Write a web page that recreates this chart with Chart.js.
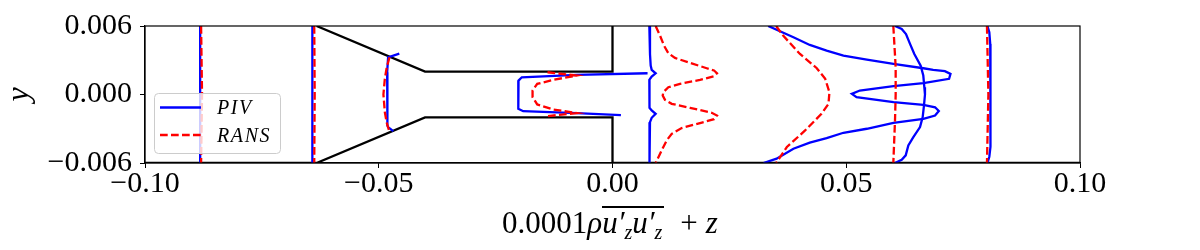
<!DOCTYPE html>
<html>
<head>
<meta charset="utf-8">
<script src="https://cdn.jsdelivr.net/npm/chart.js@4"></script>
<style>
  body { margin: 0; background: #fff; }
  #wrap { position: relative; width: 1200px; height: 250px; overflow: hidden; }
  #xlabel {
    position: absolute; left: 502px; top: 203px; height: 40px;
    font: 31px/40px "Liberation Serif", serif; white-space: nowrap; color: #000;
  }
  #xlabel i { font-style: italic; }
  #xlabel .bar { display: inline-block; position: relative; width: 62px; }
  #xlabel .bar::before { content: ""; position: absolute; left: 0; right: 0; top: 3px; height: 2px; background: #000; }
  #xlabel sub { font-size: 20px; line-height: 0; font-style: italic; vertical-align: -6px; }
  #xlabel .plus { margin-left: 16px; margin-right: 8px; }
</style>
</head>
<body>
<div id="wrap">
  <canvas id="myChart" width="1200" height="250"></canvas>
  <div id="xlabel">0.0001<i>ρ</i><span class="bar"><i>u′</i><sub>z</sub><i>u′</i><sub>z</sub></span><span class="plus">+</span><i>z</i></div>
</div>
<script>
let xTicks = [-0.1, -0.05, 0, 0.05, 0.1];
let yTicks = [-0.006, 0, 0.006];

// nozzle walls
let wallTopX = [-0.0633, -0.0401, 0, 0];
let wallTopY = [0.006, 0.002, 0.002, 0.006];
let wallBotX = [-0.0633, -0.0401, 0, 0];
let wallBotY = [-0.006, -0.002, -0.002, -0.006];
let wallLeftX = [-0.1, -0.0633];
let wallLeftY = [-0.006, -0.006];
let wallRightX = [0, 0.1];
let wallRightY = [-0.006, -0.006];

// PIV profiles
let piv1X = [-0.0882, -0.0882, -0.0882];
let piv1Y = [0.006, 0, -0.006];
let piv2X = [-0.0642, -0.0642, -0.0642];
let piv2Y = [0.006, 0, -0.006];
let piv3X = [-0.0456, -0.048, -0.0482, -0.0482, -0.0481, -0.048, -0.0469];
let piv3Y = [0.00358, 0.00326, 0.00195, -0.0001, -0.00271, -0.00285, -0.0032];
let piv4X = [0.0075, -0.0077, -0.0194, -0.0201, -0.0202, -0.0201, -0.0191, -0.0077, 0.0018];
let piv4Y = [0.00186, 0.00172, 0.00151, 0.00122, 0, -0.00125, -0.00146, -0.00163, -0.00181];
let piv5X = [0.00788, 0.00802, 0.00817, 0.00838, 0.00923, 0.00838, 0.00788, 0.00788, 0.00795, 0.00838, 0.00923, 0.00838, 0.00802, 0.00795, 0.00788];
let piv5Y = [0.006, 0.00355, 0.00253, 0.00216, 0.00186, 0.00157, 0.00128, -0.00009, -0.00117, -0.0014, -0.00169, -0.00204, -0.00242, -0.00458, -0.006];
let piv6X = [0.0333, 0.0387, 0.0422, 0.0458, 0.0494, 0.0544, 0.0601, 0.0665, 0.0686, 0.0711, 0.0723, 0.072, 0.0665, 0.0601, 0.0529, 0.0512, 0.0522, 0.0601, 0.0665, 0.069, 0.0698, 0.069, 0.0665, 0.0601, 0.0544, 0.0494, 0.0458, 0.0422, 0.0387, 0.0351, 0.0323];
let piv6Y = [0.006, 0.00501, 0.00434, 0.00384, 0.00341, 0.00306, 0.00268, 0.0023, 0.00216, 0.00204, 0.00181, 0.00137, 0.00099, 0.00073, 0.00035, 0.00006, -0.00023, -0.00067, -0.0009, -0.00112, -0.00145, -0.00184, -0.00213, -0.00248, -0.003, -0.00335, -0.00382, -0.00422, -0.00475, -0.00562, -0.006];
let piv7X = [0.06043, 0.06186, 0.06278, 0.06364, 0.06456, 0.06592, 0.06648, 0.0667, 0.06684, 0.06663, 0.06635, 0.06578, 0.06435, 0.06328, 0.06272, 0.06186, 0.06043];
let piv7Y = [0.006, 0.00574, 0.0053, 0.00443, 0.00355, 0.00253, 0.00166, 0.00064, 0, -0.00096, -0.00198, -0.00285, -0.00373, -0.00446, -0.00533, -0.00571, -0.006];
let piv8X = [0.0802, 0.0806, 0.0808, 0.0809, 0.0808, 0.0806, 0.0802];
let piv8Y = [0.006, 0.00545, 0.00443, 0, -0.00458, -0.00545, -0.006];

// RANS profiles
let rans1X = [-0.088, -0.0878, -0.088];
let rans1Y = [0.006, 0, -0.006];
let rans2X = [-0.0638, -0.0637, -0.0638];
let rans2Y = [0.006, 0, -0.006];
let rans3X = [-0.0477, -0.0483, -0.0487, -0.049, -0.0487, -0.0483, -0.0477];
let rans3Y = [0.00326, 0.00235, 0.00137, 0, -0.00154, -0.00245, -0.00329];
let rans4X = [-0.0139, -0.0077, -0.0127, -0.0161, -0.0171, -0.0171, -0.0161, -0.0127, -0.0077, -0.0139];
let rans4Y = [0.00195, 0.00166, 0.00128, 0.00093, 0.00035, -0.00023, -0.00087, -0.00131, -0.00163, -0.00189];
let rans5X = [0.00923, 0.01016, 0.01102, 0.01195, 0.01337, 0.01658, 0.02015, 0.02171, 0.02235, 0.02171, 0.01872, 0.01444, 0.01195, 0.01088, 0.01074, 0.01123, 0.01267, 0.01658, 0.02122, 0.02235, 0.02171, 0.01872, 0.0148, 0.01267, 0.01159, 0.01052, 0.00923];
let rans5Y = [0.006, 0.00516, 0.00428, 0.00361, 0.0032, 0.00277, 0.0023, 0.0021, 0.00186, 0.0016, 0.00128, 0.00093, 0.00064, 0.0002, -0.00009, -0.00047, -0.00082, -0.00117, -0.0016, -0.00184, -0.00216, -0.0025, -0.00294, -0.00344, -0.00402, -0.00489, -0.006];
let rans6X = [0.035, 0.0365, 0.0401, 0.0437, 0.0455, 0.0464, 0.0462, 0.0447, 0.0412, 0.0373, 0.035];
let rans6Y = [0.006, 0.00516, 0.00355, 0.0023, 0.00137, 0.0002, -0.00082, -0.00169, -0.00315, -0.0046, -0.006];
let rans7X = [0.06007, 0.06057, 0.06057, 0.06043, 0.06007];
let rans7Y = [0.006, 0.0024, 0, -0.00227, -0.006];
let rans8X = [0.0801, 0.0804, 0.0801];
let rans8Y = [0.006, 0, -0.006];

const pts = (xs, ys) => xs.map((v, i) => ({ x: v, y: ys[i] }));

const rans = (xs, ys) => ({
  data: pts(xs, ys), borderColor: "#ff0000", borderWidth: 2.3, borderDash: [7.7, 3.3], showLine: true, pointRadius: 0, tension: 0
});
const piv = (xs, ys) => ({
  data: pts(xs, ys), borderColor: "#0000ff", borderWidth: 2.3, showLine: true, pointRadius: 0, tension: 0
});
const wall = (xs, ys) => ({
  data: pts(xs, ys), borderColor: "#000000", borderWidth: 2.3, showLine: true, pointRadius: 0, tension: 0
});

const fmtMinus = (s) => s.replace("-", "\u2212");

// axes frame and the legend box, matplotlib style
const framePlugin = {
  id: "frame",
  afterDraw(chart) {
    const { ctx, chartArea: a } = chart;
    ctx.save();
    ctx.strokeStyle = "#000";
    ctx.lineWidth = 1.2;
    ctx.strokeRect(a.left, a.top, a.right - a.left, a.bottom - a.top);

    ctx.beginPath();
    ctx.roundRect(154.5, 93.5, 126, 60, 4);
    ctx.fillStyle = "rgba(255,255,255,0.8)";
    ctx.fill();
    ctx.strokeStyle = "#cccccc";
    ctx.lineWidth = 1;
    ctx.stroke();

    ctx.lineWidth = 2.3;
    ctx.strokeStyle = "#0000ff";
    ctx.beginPath();
    ctx.moveTo(160, 107.5);
    ctx.lineTo(201, 107.5);
    ctx.stroke();
    ctx.strokeStyle = "#ff0000";
    ctx.setLineDash([7.7, 3.3]);
    ctx.beginPath();
    ctx.moveTo(160, 135);
    ctx.lineTo(201, 135);
    ctx.stroke();
    ctx.setLineDash([]);

    ctx.fillStyle = "#000";
    ctx.font = 'italic 20px "Liberation Serif"';
    ctx.letterSpacing = "1.6px";
    ctx.textBaseline = "alphabetic";
    ctx.fillText("PIV", 217, 114);
    ctx.fillText("RANS", 217, 142);
    ctx.restore();
  }
};

new Chart(document.getElementById("myChart"), {
  type: "scatter",
  plugins: [framePlugin],
  data: {
    datasets: [
      rans(rans1X, rans1Y), rans(rans2X, rans2Y), rans(rans3X, rans3Y), rans(rans4X, rans4Y),
      rans(rans5X, rans5Y), rans(rans6X, rans6Y), rans(rans7X, rans7Y), rans(rans8X, rans8Y),
      piv(piv1X, piv1Y), piv(piv2X, piv2Y), piv(piv3X, piv3Y), piv(piv4X, piv4Y),
      piv(piv5X, piv5Y), piv(piv6X, piv6Y), piv(piv7X, piv7Y), piv(piv8X, piv8Y),
      wall(wallTopX, wallTopY), wall(wallBotX, wallBotY), wall(wallLeftX, wallLeftY), wall(wallRightX, wallRightY)
    ]
  },
  options: {
    responsive: false,
    animation: false,
    layout: { padding: { top: 26, right: 120, left: 0, bottom: 0 } },
    plugins: { legend: { display: false }, tooltip: { enabled: false } },
    scales: {
      x: {
        type: "linear",
        min: -0.1,
        max: 0.1,
        afterFit: (s) => { s.height = 87; },
        afterBuildTicks: (s) => { s.ticks = xTicks.map((v) => ({ value: v })); },
        border: { color: "#000", width: 1.2 },
        grid: { drawOnChartArea: false, drawTicks: true, tickLength: 5, color: "#000", tickWidth: 1 },
        ticks: {
          color: "#000",
          maxRotation: 0,
          padding: -2,
          font: { family: "Liberation Serif", size: 30 },
          callback: (v) => fmtMinus(v.toFixed(2))
        }
      },
      y: {
        type: "linear",
        min: -0.006,
        max: 0.006,
        afterFit: (s) => { s.width = 145; },
        afterBuildTicks: (s) => { s.ticks = yTicks.map((v) => ({ value: v })); },
        border: { color: "#000", width: 1.2 },
        grid: { drawOnChartArea: false, drawTicks: true, tickLength: 5, color: "#000", tickWidth: 1 },
        title: {
          display: true,
          text: "y",
          color: "#000",
          padding: { top: 0, bottom: 0 },
          font: { family: "Liberation Serif", size: 32, style: "italic" }
        },
        ticks: {
          color: "#000",
          padding: 8,
          font: { family: "Liberation Serif", size: 30 },
          callback: (v) => fmtMinus(v.toFixed(3))
        }
      }
    }
  }
});
</script>
</body>
</html>
